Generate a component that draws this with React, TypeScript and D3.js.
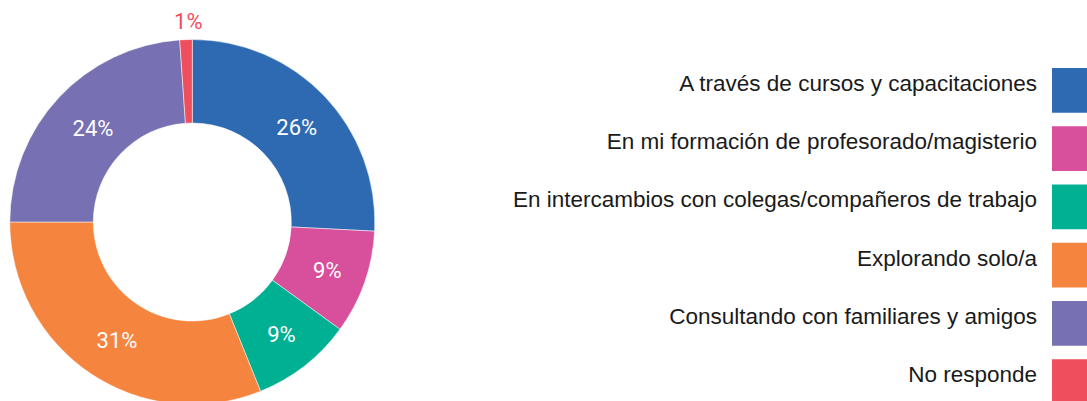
import React, { useEffect, useRef } from "react";
import * as d3 from "d3";

const categories = [
  "A través de cursos y capacitaciones",
  "En mi formación de profesorado/magisterio",
  "En intercambios con colegas/compañeros de trabajo",
  "Explorando solo/a",
  "Consultando con familiares y amigos",
  "No responde",
];
const values = [25.8, 9.2, 8.9, 31.1, 23.9, 1.1];
const labels = ["26%", "9%", "9%", "31%", "24%", "1%"];
const colors = ["#2D6AB1", "#D84F9B", "#00B092", "#F4843E", "#7771B3", "#EF4E5C"];

const W = 1087;
const H = 401;

export default function App() {
  const ref = useRef<SVGSVGElement | null>(null);
  useEffect(() => {
    const svg = d3.select(ref.current);
    svg.selectAll("*").remove();
    const cx = 192.3, cy = 222, R = 182.5, r = 99;
    const pie = d3.pie<number>().sort(null).value((d) => d);
    const arcs = pie(values);
    const arc = d3.arc<d3.PieArcDatum<number>>().innerRadius(r).outerRadius(R);
    const labelArc = d3.arc<d3.PieArcDatum<number>>().innerRadius(140).outerRadius(140);
    const outerArc = d3.arc<d3.PieArcDatum<number>>().innerRadius(203).outerRadius(203);
    const g = svg.append("g").attr("transform", `translate(${cx},${cy})`);
    g.selectAll("path")
      .data(arcs)
      .join("path")
      .attr("d", arc as any)
      .attr("fill", (_, i) => colors[i])
      .attr("stroke", "#fff")
      .attr("stroke-width", 0.5);
    g.selectAll("text")
      .data(arcs)
      .join("text")
      .attr("transform", (d, i) => {
        const c = i === 5 ? outerArc.centroid(d) : labelArc.centroid(d);
        return `translate(${c[0] + 3},${c[1] + 2})`;
      })
      .attr("text-anchor", "middle")
      .attr("dy", "0.35em")
      .attr("font-family", "Roboto, sans-serif")
      .attr("font-weight", 400)
      .attr("font-size", 22)
      .attr("fill", (_, i) => (i === 5 ? colors[5] : "#fff"))
      .text((_, i) => labels[i]);

    const y = d3
      .scaleBand<number>()
      .domain(d3.range(categories.length))
      .range([68, 404])
      .paddingInner(0.232)
      .paddingOuter(0);
    const lg = svg.append("g");
    lg.selectAll("rect")
      .data(categories)
      .join("rect")
      .attr("x", 1052)
      .attr("y", (_, i) => y(i)!)
      .attr("width", 40)
      .attr("height", y.bandwidth())
      .attr("fill", (_, i) => colors[i]);
    lg.selectAll("text")
      .data(categories)
      .join("text")
      .attr("x", 1037)
      .attr("y", (_, i) => y(i)! + y.bandwidth() / 2 + 0.5)
      .attr("text-anchor", "end")
      .attr("font-family", "'Liberation Sans', Arial, sans-serif")
      .attr("font-size", 22.5)
      .attr("fill", "#1a1a1a")
      .text((d) => d);
  }, []);
  return (
    <svg
      ref={ref}
      width={W}
      height={H}
      style={{ position: "absolute", left: 0, top: 0, background: "#fff" }}
    />
  );
}
